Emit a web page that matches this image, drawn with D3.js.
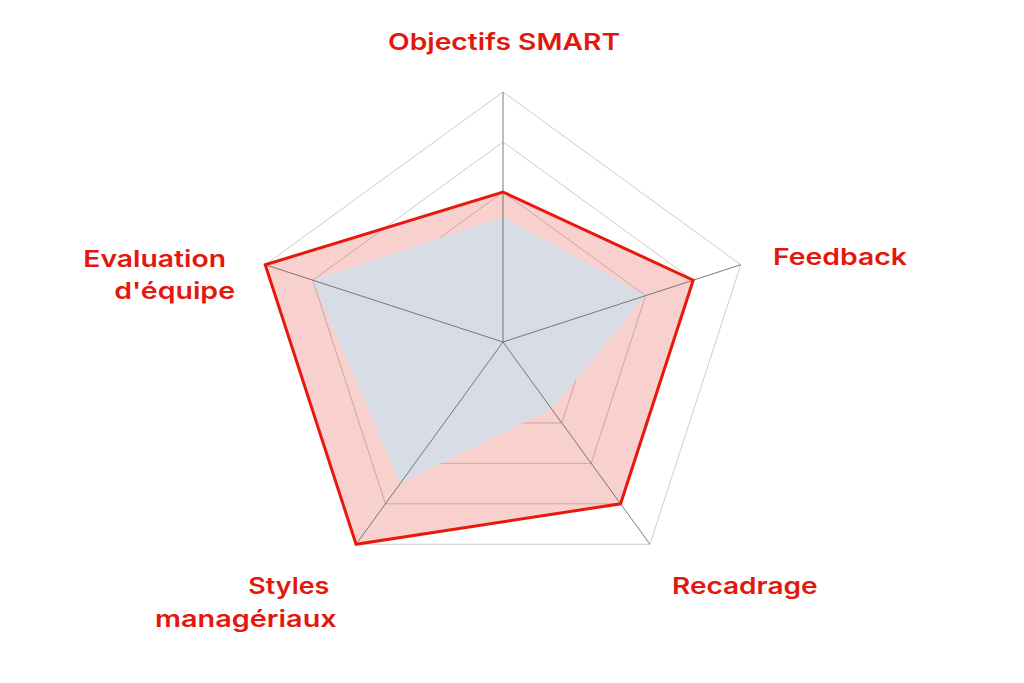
<!DOCTYPE html>
<html>
<head>
<meta charset="utf-8">
<script src="https://cdn.jsdelivr.net/npm/d3@7"></script>
<style>
  html, body { margin: 0; padding: 0; background: #fff; }
  svg { display: block; }
  .label { font-family: Inter, "Noto Sans", sans-serif; font-weight: 600; font-size: 23px; fill: #e3170d; }
</style>
</head>
<body>
<svg id="chart" width="1024" height="683"></svg>
<script>
// axes, clockwise from the top
const axes = ["Objectifs SMART", "Feedback", "Recadrage", "Styles managériaux", "Evaluation d'équipe"];
const labelLines = [["Objectifs SMART"], ["Feedback"], ["Recadrage"], ["Styles", "managériaux"], ["Evaluation", "d'équipe"]];
const gridLevels = [0.2, 0.4, 0.6, 0.8, 1.0];
// outer (red) series and inner (grey) series, 0..1
const targetValues = [0.6, 0.8, 0.8, 1.0, 1.0];
const currentValues = [0.5, 0.6, 0.33, 0.7, 0.8];

const svg = d3.select("#chart");
const cx = 503, cy = 342;

const r = d3.scaleLinear().domain([0, 1]).range([0, 250]);
const angle = d3.scaleLinear().domain([0, axes.length]).range([0, 2 * Math.PI]);

const radial = d3.lineRadial()
    .angle((d, i) => angle(i))
    .radius(d => r(d))
    .curve(d3.curveLinearClosed);

const g = svg.append("g").attr("transform", `translate(${cx},${cy})`);

// pink area of the red series
g.append("path")
    .datum(targetValues)
    .attr("d", radial)
    .attr("fill", "#f8d1ce");

// web grid
g.append("g").selectAll("path")
    .data(gridLevels).join("path")
    .attr("d", lv => radial(axes.map(() => lv)))
    .attr("fill", "none")
    .attr("stroke", "rgba(0,0,0,0.2)")
    .attr("stroke-width", 1);

// grey series
g.append("path")
    .datum(currentValues)
    .attr("d", radial)
    .attr("fill", "#d8dce4");

// spokes
g.append("g").selectAll("line")
    .data(axes).join("line")
    .attr("x1", 0).attr("y1", 0)
    .attr("x2", (d, i) => r(1) * Math.sin(angle(i)))
    .attr("y2", (d, i) => -r(1) * Math.cos(angle(i)))
    .attr("stroke", "#6b6b6b")
    .attr("stroke-width", 0.9);

// red outline
g.append("path")
    .datum(targetValues)
    .attr("d", radial)
    .attr("fill", "none")
    .attr("stroke", "#e8180c")
    .attr("stroke-width", 3)
    .attr("stroke-linejoin", "miter");

// label placement: left x, baseline y, width of each line
const labelLayout = [
    [[388, 49.5, 232]],
    [[773, 265, 134]],
    [[672, 594.3, 145.6]],
    [[248.3, 594.3, 81], [155, 627.3, 181.7]],
    [[83.3, 266.7, 142.7], [114.3, 299.3, 120.7]]
];

const labels = svg.append("g");
labelLines.forEach((lines, i) => {
    lines.forEach((txt, j) => {
        const [x, y, w] = labelLayout[i][j];
        labels.append("text")
            .attr("class", "label")
            .attr("x", x).attr("y", y)
            .attr("textLength", w)
            .attr("lengthAdjust", "spacingAndGlyphs")
            .text(txt);
    });
});
</script>
</body>
</html>
